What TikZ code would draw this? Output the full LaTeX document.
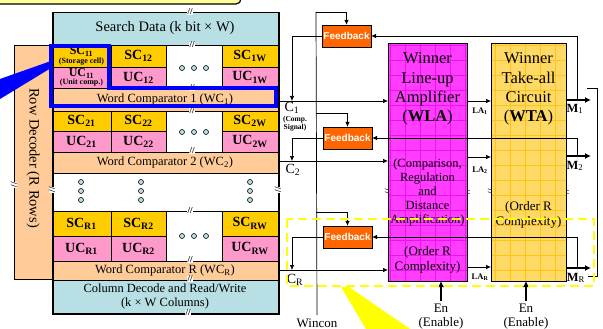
\documentclass[tikz,border=0pt]{standalone}
\usepackage{fontspec}
\setmainfont{Liberation Serif}
\newfontfamily\fbfont{Liberation Sans}
\usetikzlibrary{arrows.meta,positioning}
\definecolor{searchblue}{RGB}{184,224,228}
\definecolor{peach}{RGB}{255,204,153}
\definecolor{scgold}{RGB}{255,204,0}
\definecolor{ucpink}{RGB}{255,153,204}
\definecolor{fborange}{RGB}{255,102,0}
\definecolor{wlamag}{RGB}{255,60,255}
\definecolor{wlagrid}{RGB}{235,20,235}
\definecolor{wtagold}{RGB}{255,217,102}
\definecolor{wtagrid}{RGB}{255,196,20}
\definecolor{hiblue}{RGB}{0,0,255}
\definecolor{calloutyel}{RGB}{255,255,0}
\definecolor{notepale}{RGB}{255,255,153}
\newcommand{\cid}[2]{\textbf{#1\textsubscript{#2}}}
\tikzset{
 cell/.style={draw,anchor=north west,inner sep=0pt,outer sep=0pt,align=center,line width=0.6pt},
 sc/.style={cell,fill=scgold,font=\fontsize{14}{14}\selectfont},
 uc/.style={cell,fill=ucpink,font=\fontsize{14}{14}\selectfont},
 wc/.style={cell,fill=peach,minimum width=226pt,font=\fontsize{12.5}{13}\selectfont},
 blank/.style={cell,fill=white},
 dotc/.style={draw,fill=searchblue,line width=0.6pt},
 brk/.style={fill=white,inner sep=0.2pt,font=\fontsize{9}{9}\selectfont\bfseries},
 fbbox/.style={draw,fill=fborange,text=white,minimum width=49pt,minimum height=22pt,
             inner sep=0pt,font=\fbfont\fontsize{10}{10}\selectfont\bfseries},
 arrow/.style={-{Latex[length=5pt,width=4.5pt]},line width=0.7pt},
 thickarrow/.style={-{Latex[length=6pt,width=6pt]},line width=2pt},
 bigtext/.style={align=center,font=\fontsize{16.5}{19.3}\selectfont},
 midtext/.style={align=center,font=\fontsize{12.5}{13.8}\selectfont},
 ordtext/.style={align=center,font=\fontsize{13}{15}\selectfont},
 lab/.style={align=center,font=\fontsize{13}{14}\selectfont},
 tinylab/.style={align=center,font=\fontsize{7.5}{8}\selectfont\bfseries}
}
\begin{document}
\begin{tikzpicture}[x=1pt,y=-1pt]
\clip (0,0) rectangle (603,329);
% note box at the top
\draw[fill=notepale,line width=1.2pt,rounded corners=5pt] (-10,-40) rectangle (241,4);
% row decoder
\node[cell,fill=peach,minimum width=38pt,minimum height=234pt] (rowdec) at (14,45) {};
\node[rotate=-90,font=\fontsize{14.5}{15}\selectfont] (rowdeclab) at (33,158) {Row Decoder (R Rows)};
% memory array
\node[cell,fill=searchblue,minimum width=226pt,minimum height=33pt,
      font=\fontsize{14.5}{15}\selectfont] (search) at (52,12) {Search Data (k bit × W)};
\node[sc,minimum width=59pt,minimum height=22pt,font=\fontsize{8}{8}\selectfont\bfseries]
      (sc11) at (search.south west) {{\fontsize{12}{12}\selectfont SC\textsubscript{11}}\\[0.5pt](Storage cell)};
\node[sc,minimum width=55pt,minimum height=22pt,right=0pt of sc11] (sc12) {\cid{SC}{12}};
\node[blank,minimum width=56pt,minimum height=43pt] (dots1) at (sc12.north east) {};
\node[sc,minimum width=56pt,minimum height=22pt] (sc1w) at (dots1.north east) {\cid{SC}{1W}};
\node[uc,minimum width=59pt,minimum height=21pt,font=\fontsize{8}{8}\selectfont\bfseries]
      (uc11) at (sc11.south west) {{\fontsize{12}{12}\selectfont UC\textsubscript{11}}\\[0.5pt](Unit comp.)};
\node[uc,minimum width=55pt,minimum height=21pt] (uc12) at (sc12.south west) {\cid{UC}{12}};
\node[uc,minimum width=56pt,minimum height=21pt] (uc1w) at (sc1w.south west) {\cid{UC}{1W}};
\node[wc,minimum height=23pt] (wc1) at (uc11.south west) {Word Comparator 1 (WC\textsubscript{1})};
% row 2
\node[sc,minimum width=59pt,minimum height=20pt] (sc21) at (wc1.south west) {\cid{SC}{21}};
\node[sc,minimum width=55pt,minimum height=20pt,right=0pt of sc21] (sc22) {\cid{SC}{22}};
\node[blank,minimum width=56pt,minimum height=41pt] (dots2) at (sc22.north east) {};
\node[sc,minimum width=56pt,minimum height=20pt] (sc2w) at (dots2.north east) {\cid{SC}{2W}};
\node[uc,minimum width=59pt,minimum height=21pt] (uc21) at (sc21.south west) {\cid{UC}{21}};
\node[uc,minimum width=55pt,minimum height=21pt] (uc22) at (sc22.south west) {\cid{UC}{22}};
\node[uc,minimum width=56pt,minimum height=21pt] (uc2w) at (sc2w.south west) {\cid{UC}{2W}};
\node[wc,minimum height=21pt] (wc2) at (uc21.south west) {Word Comparator 2 (WC\textsubscript{2})};
\node[blank,minimum width=226pt,minimum height=38pt] (dotsrow) at (wc2.south west) {};
% row R
\node[sc,minimum width=59pt,minimum height=25pt] (scr1) at (dotsrow.south west) {\cid{SC}{R1}};
\node[sc,minimum width=55pt,minimum height=25pt,right=0pt of scr1] (scr2) {\cid{SC}{R2}};
\node[blank,minimum width=56pt,minimum height=50pt] (dotsr) at (scr2.north east) {};
\node[sc,minimum width=56pt,minimum height=25pt] (scrw) at (dotsr.north east) {\cid{SC}{RW}};
\node[uc,minimum width=59pt,minimum height=25pt] (ucr1) at (scr1.south west) {\cid{UC}{R1}};
\node[uc,minimum width=55pt,minimum height=25pt] (ucr2) at (scr2.south west) {\cid{UC}{R2}};
\node[uc,minimum width=56pt,minimum height=25pt] (ucrw) at (scrw.south west) {\cid{UC}{RW}};
\node[wc,minimum height=19pt] (wcr) at (ucr1.south west) {Word Comparator R (WC\textsubscript{R})};
\node[cell,fill=searchblue,minimum width=226pt,minimum height=33pt,
      font=\fontsize{12.5}{13.5}\selectfont] (coldec) at (wcr.south west) {Column Decode and Read/Write\\(k × W Columns)};
\node[draw,line width=1.5pt,anchor=north west,inner sep=0pt,minimum width=226pt,minimum height=301pt] (array) at (52,12) {};
% dots
\foreach \y in {68,132,236}
  \foreach \x in {182,194,206}
    \draw[dotc] (\x,\y) circle (2.5pt);
\foreach \x in {81,141,250}
  \foreach \y in {182,191,200}
    \draw[dotc] (\x,\y) circle (2.5pt);
% break marks
\foreach \x/\y/\r [count=\i] in {190/12/0,192/45/0,192/88/0,192/111/0,192/151/0,190/211/0,190/260/0,
    190/279/0,188/313/0,52/190/90,278/190/90,14/185/90,388/192/90,467/192/90,491/192/90,566/192/90}
  \node[brk,rotate=\r] (brk\i) at (\x,\y) {//};
% highlight of one word
\fill[hiblue] (0,79) -- (51,61) -- (51,68) -- (0,99) -- cycle;
\draw[hiblue,line width=3.5pt] (51,46) -- (109,46) -- (109,88) -- (276,88) -- (276,106) -- (51,106) -- cycle;

% WLA and WTA
\node[cell,fill=wlamag,minimum width=79pt,minimum height=238pt] (wla) at (388,43) {};
\node[cell,fill=wtagold,minimum width=75pt,minimum height=238pt] (wta) at (491,43) {};
\begin{scope}
\clip (wla.south west) rectangle (wla.north east);
\draw[wlagrid,line width=0.4pt,step=15pt] (wla.south west) grid (wla.north east);
\end{scope}
\begin{scope}
\clip (wta.south west) rectangle (wta.north east);
\draw[wtagrid,line width=0.4pt,step=15pt] (wta.south west) grid (wta.north east);
\end{scope}
\draw[line width=0.8pt] (wla.south west) rectangle (wla.north east);
\draw[line width=0.8pt] (wta.south west) rectangle (wta.north east);
\node[bigtext] (wlatitle) at (427.5,89) {Winner\\Line-up\\Amplifier\\(\textbf{WLA})};
\node[midtext] (wlamid) at (427.5,192.5) {(Comparison,\\Regulation\\and\\Distance\\Amplification)};
\node[ordtext] (wlaord) at (427.5,259.5) {(Order R\\Complexity)};
\node[bigtext] (wtatitle) at (528.5,89) {Winner\\Take-all\\Circuit\\(\textbf{WTA})};
\node[ordtext] (wtaord) at (528.5,214.5) {(Order R\\Complexity)};

% Wincon and feedback
\node[lab] (wincon) at (317,323) {Wincon};
\coordinate (wtop) at (316,12);
\coordinate (w2) at (316,113);
\coordinate (w3) at (316,212);
\draw[line width=0.7pt] (wtop) -- (wincon.north);
\node[fbbox] (fb1) at (346.5,36) {Feedback};
\node[fbbox] (fb2) at (347.5,138) {Feedback};
\node[fbbox] (fb3) at (347.5,237) {Feedback};
\draw[arrow] (wtop) -| (fb1.north);
\draw[arrow] (w2) -| (fb2.north);
\draw[arrow] (w3) -| (fb3.north);
\coordinate (c1in) at (292,101);
\coordinate (c2in) at (292,161);
\coordinate (crin) at (292,270);
\draw[arrow] (fb1.west) -| (c1in);
\draw[arrow] (fb2.west) -| (c2in);
\draw[arrow] (fb3.west) -| (crin);
% comparison signals
\draw[arrow] (array.east |- c1in) -- (wla.west |- c1in);
\draw[arrow] (array.east |- c2in) -- (wla.west |- c2in);
\draw[arrow] (array.east |- crin) -- (wla.west |- crin);
\node[font=\fontsize{14}{14}\selectfont] (c1lab) at (292,108) {C\textsubscript{1}};
\node[tinylab] (c1note) at (295,124) {(Comp.\\Signal)};
\node[font=\fontsize{14}{14}\selectfont] (c2lab) at (293,170) {C\textsubscript{2}};
\node[font=\fontsize{14}{14}\selectfont] (crlab) at (295,280) {C\textsubscript{R}};
% line-up outputs
\coordinate (la1) at (479,101);
\coordinate (la2) at (479,157);
\coordinate (lar) at (479,267);
\draw[arrow] (wla.east |- la1) -- (wta.west |- la1);
\draw[arrow] (wla.east |- la2) -- (wta.west |- la2);
\draw[arrow] (wla.east |- lar) -- (wta.west |- lar);
\node[font=\fontsize{8.5}{9}\selectfont\bfseries] (la1lab) at (480,111) {LA\textsubscript{1}};
\node[font=\fontsize{8.5}{9}\selectfont\bfseries] (la2lab) at (480,170) {LA\textsubscript{2}};
\node[font=\fontsize{8.5}{9}\selectfont\bfseries] (larlab) at (480,277) {LA\textsubscript{R}};
% match outputs
\coordinate (m1) at (591,100);
\coordinate (m2) at (591,156);
\coordinate (mr) at (591,268);
\draw[thickarrow] (wta.east |- m1) -- (m1);
\draw[thickarrow] (wta.east |- m2) -- (m2);
\draw[thickarrow] (wta.east |- mr) -- (mr);
\node[font=\fontsize{12.5}{13}\selectfont] (m1lab) at (575,109) {\textbf{M}\textsubscript{1}};
\node[font=\fontsize{12.5}{13}\selectfont] (m2lab) at (575,166) {\textbf{M}\textsubscript{2}};
\node[font=\fontsize{12.5}{13}\selectfont] (mrlab) at (576,278) {\textbf{M}\textsubscript{R}};
\coordinate (m1tap) at (577,100);
\coordinate (m2tap) at (577,156);
\coordinate (mrtap) at (577,268);
\draw[arrow] (m1tap) |- (fb1.east);
\draw[arrow] (m2tap) |- (fb2.east);
\draw[arrow] (mrtap) |- (fb3.east);
\draw[line width=0.7pt] (587,88) -- (597,88) -- (597,276) -- (588,276);
% enable inputs
\node[lab] (en1) at (441,317) {En\\(Enable)};
\node[lab] (en2) at (526,317) {En\\(Enable)};
\draw[thickarrow] (en1.north) -- (en1.north |- wla.south);
\draw[thickarrow] (en2.north) -- (en2.north |- wta.south);
% highlighted word path
\draw[calloutyel,line width=2.5pt,dash pattern=on 9pt off 5pt] (287,219) rectangle (594,286);
\fill[calloutyel] (341,287) -- (349,287) -- (410,329) -- (366,329) -- cycle;
\end{tikzpicture}
\end{document}
